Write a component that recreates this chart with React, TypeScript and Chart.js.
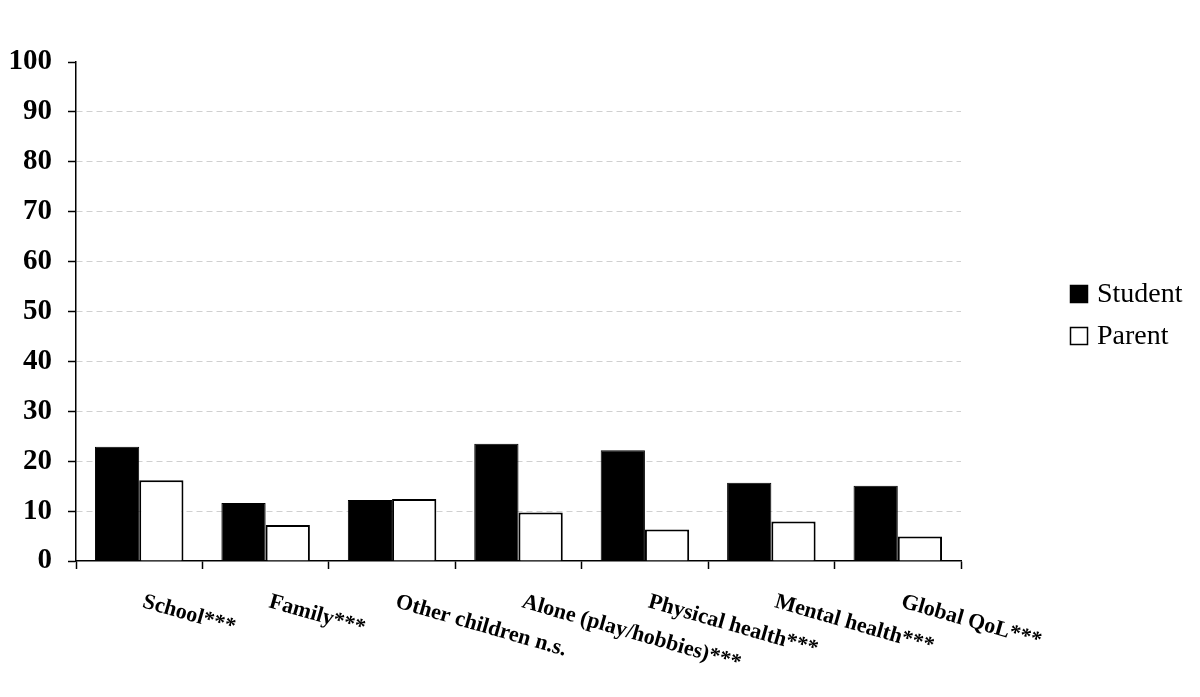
import React, { useEffect, useRef } from "react";
import { Chart, registerables } from "chart.js";

Chart.register(...registerables);

const categories = [
  "School***",
  "Family***",
  "Other children n.s.",
  "Alone (play/hobbies)***",
  "Physical health***",
  "Mental health***",
  "Global QoL***",
];
const studentValues = [22.9, 11.6, 12.2, 23.5, 22.2, 15.7, 15.1];
const parentValues = [16.2, 7.2, 12.4, 9.7, 6.3, 7.9, 4.9];
const seriesNames = ["Student", "Parent"];
const yTicks = [0, 10, 20, 30, 40, 50, 60, 70, 80, 90, 100];

const FONT = "'Liberation Serif', 'Times New Roman', serif";

const labelPlugin = {
  id: "rotLabels",
  afterDraw(chart: any) {
    const { ctx } = chart;
    const xs = chart.scales.x;
    const bottom = chart.chartArea.bottom;
    ctx.save();
    ctx.fillStyle = "#000";
    ctx.font = `bold 22px ${FONT}`;
    ctx.textAlign = "left";
    ctx.textBaseline = "top";
    categories.forEach((c, i) => {
      const x = xs.getPixelForTick(i) + 7;
      const y = bottom + 30;
      ctx.save();
      ctx.translate(x, y);
      ctx.rotate((16 * Math.PI) / 180);
      ctx.fillText(c, 0, 0);
      ctx.restore();
    });
    // legend
    ctx.font = `28px ${FONT}`;
    ctx.textBaseline = "middle";
    const lx = 1070;
    const rows = [294, 336];
    seriesNames.forEach((n, i) => {
      const cy = rows[i];
      ctx.fillStyle = i === 0 ? "#000" : "#fff";
      ctx.fillRect(lx, cy - 9, 18, 18);
      ctx.strokeStyle = "#000";
      ctx.lineWidth = 1.5;
      ctx.strokeRect(lx + 0.5, cy - 8.5, 17, 17);
      ctx.fillStyle = "#000";
      ctx.fillText(n, lx + 27, cy + 1);
    });
    ctx.restore();
  },
};

export default function App() {
  const ref = useRef<HTMLCanvasElement | null>(null);
  useEffect(() => {
    if (!ref.current) return;
    const chart = new Chart(ref.current, {
      type: "bar",
      data: {
        labels: categories,
        datasets: [
          {
            label: seriesNames[0],
            data: studentValues,
            backgroundColor: "#000",
            borderColor: "#000",
            borderWidth: 1,
            categoryPercentage: 0.7,
            barPercentage: 1,
          },
          {
            label: seriesNames[1],
            data: parentValues,
            backgroundColor: "#fff",
            borderColor: "#000",
            borderWidth: 2,
            categoryPercentage: 0.7,
            barPercentage: 1,
          },
        ],
      },
      options: {
        animation: false,
        responsive: false,
        maintainAspectRatio: false,
        layout: { padding: { top: 62, right: 239, left: 0, bottom: 0 } },
        plugins: { legend: { display: false }, tooltip: { enabled: false } },
        scales: {
          x: {
            offset: true,
            grid: {
              display: true,
              offset: true,
              drawOnChartArea: false,
              drawTicks: true,
              tickLength: 8,
              tickColor: "#000",
              tickWidth: 1.5,
            },
            border: { display: true, color: "#000", width: 1.5 },
            ticks: { display: false },
            afterFit(scale: any) {
              scale.height = 136;
            },
          },
          y: {
            min: 0,
            max: 100,
            afterBuildTicks(scale: any) {
              scale.ticks = yTicks.map((v) => ({ value: v }));
            },
            grid: {
              display: true,
              drawOnChartArea: true,
              drawTicks: true,
              tickLength: 8,
              tickColor: "#000",
              tickWidth: 1.5,
              lineWidth: 1,
              color: (c: any) =>
                c.tick && (c.tick.value === 0 || c.tick.value === 100)
                  ? "rgba(0,0,0,0)"
                  : "#d0d0d0",
            },
            border: { display: true, color: "#000", width: 1.5, dash: [6, 4] },
            ticks: {
              padding: 16,
              color: "#000",
              font: { family: FONT, size: 29, weight: "bold" },
            },
            afterFit(scale: any) {
              scale.width = 76;
            },
          },
        },
      },
      plugins: [labelPlugin],
    });
    return () => chart.destroy();
  }, []);
  return (
    <div style={{ position: "absolute", left: 0, top: 0, width: 1200, height: 697, background: "#fff" }}>
      <canvas ref={ref} width={1200} height={697} style={{ width: 1200, height: 697 }} />
    </div>
  );
}
